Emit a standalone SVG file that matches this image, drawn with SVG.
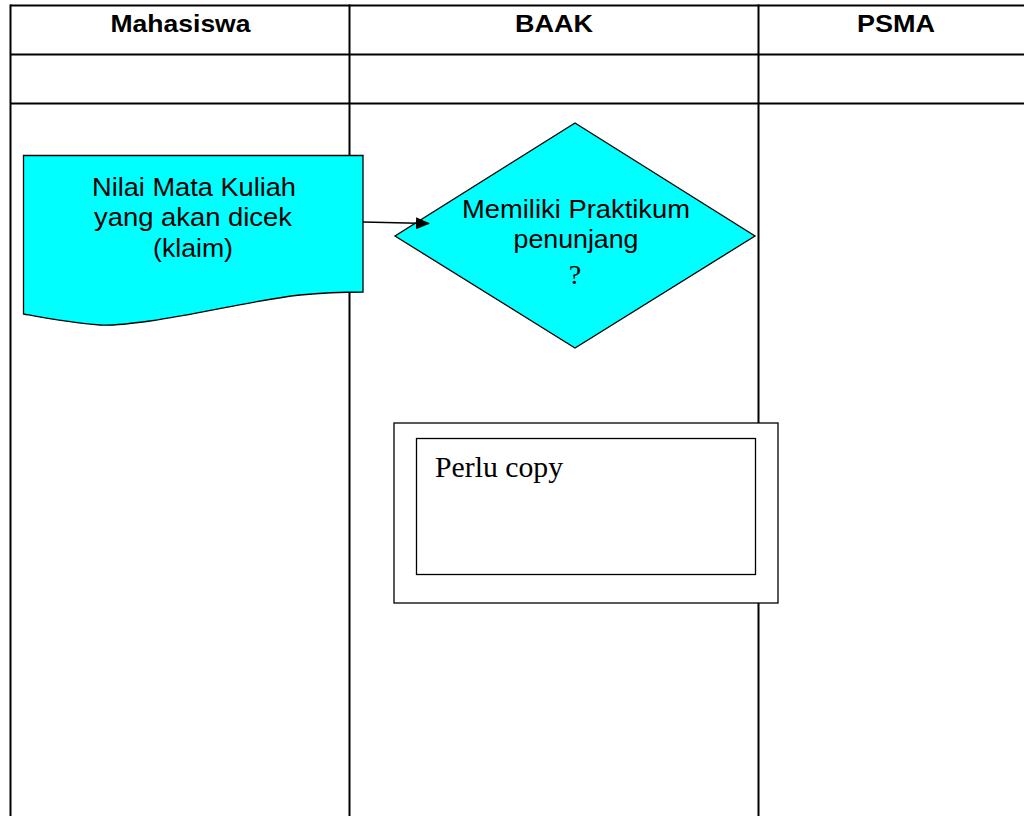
<svg xmlns="http://www.w3.org/2000/svg" width="1024" height="816" viewBox="0 0 1024 816">
<style>
.grid{stroke:#000;stroke-width:2;fill:none}
.shape{stroke:#000;stroke-width:1.3}
.cyan{fill:#00FFFF}
.hdr{font-family:"Liberation Sans",Arial,sans-serif;font-weight:bold;font-size:24px;text-anchor:middle;fill:#000}
.lbl{font-family:"Liberation Sans",Arial,sans-serif;font-size:25px;text-anchor:middle;fill:#000}
.ser{font-family:"Liberation Serif","Times New Roman",serif;fill:#000}
</style>
<defs>
<marker id="arr" markerWidth="14" markerHeight="12" refX="13" refY="6" orient="auto" markerUnits="userSpaceOnUse">
<path d="M0,0 L14,6 L0,12 Z" fill="#000"/>
</marker>
</defs>
<rect width="1024" height="816" fill="#fff"/>
<g id="table">
<line class="grid" x1="10" y1="5.5" x2="1024" y2="5.5"/>
<line class="grid" x1="10" y1="54.5" x2="1024" y2="54.5"/>
<line class="grid" x1="10" y1="103.5" x2="1024" y2="103.5"/>
<line class="grid" x1="10.5" y1="4.5" x2="10.5" y2="816"/>
<line class="grid" x1="349.5" y1="4.5" x2="349.5" y2="816"/>
<line class="grid" x1="758.5" y1="4.5" x2="758.5" y2="816"/>
<text class="hdr" x="180.5" y="31.5" textLength="140" lengthAdjust="spacingAndGlyphs">Mahasiswa</text>
<text class="hdr" x="554" y="31.5" textLength="78" lengthAdjust="spacingAndGlyphs">BAAK</text>
<text class="hdr" x="896" y="31.5" textLength="78" lengthAdjust="spacingAndGlyphs">PSMA</text>
</g>
<g id="node-nilai">
<path class="shape cyan" d="M23.5,155.5 H363 V292 C340,292 320,293 300,295 C255,300 200,314 150,321 C128,324 112,326 100,325 C70,323 45,318 23.5,314 Z"/>
<text class="lbl" x="194" y="195.5" textLength="204" lengthAdjust="spacingAndGlyphs">Nilai Mata Kuliah</text>
<text class="lbl" x="193" y="225.5" textLength="198" lengthAdjust="spacingAndGlyphs">yang akan dicek</text>
<text class="lbl" x="193" y="257" textLength="80" lengthAdjust="spacingAndGlyphs">(klaim)</text>
</g>
<g id="node-decision">
<path class="shape cyan" d="M575,123 L755,236 L575,348 L395,236 Z"/>
<text class="lbl" x="576" y="218" textLength="228" lengthAdjust="spacingAndGlyphs">Memiliki Praktikum</text>
<text class="lbl" x="576" y="248" textLength="125" lengthAdjust="spacingAndGlyphs">penunjang</text>
<text class="ser" x="575" y="284" font-size="28" text-anchor="middle">?</text>
</g>
<g id="node-perlu">
<rect class="shape" x="394" y="423" width="384" height="180" fill="#fff"/>
<rect class="shape" x="416.5" y="438.5" width="339" height="136" fill="#fff"/>
<text class="ser" x="435" y="477" font-size="29" textLength="128" lengthAdjust="spacingAndGlyphs">Perlu copy</text>
</g>
<g id="connectors">
<line x1="363" y1="222" x2="429" y2="223.5" stroke="#000" stroke-width="1.3" marker-end="url(#arr)"/>
</g>
</svg>
